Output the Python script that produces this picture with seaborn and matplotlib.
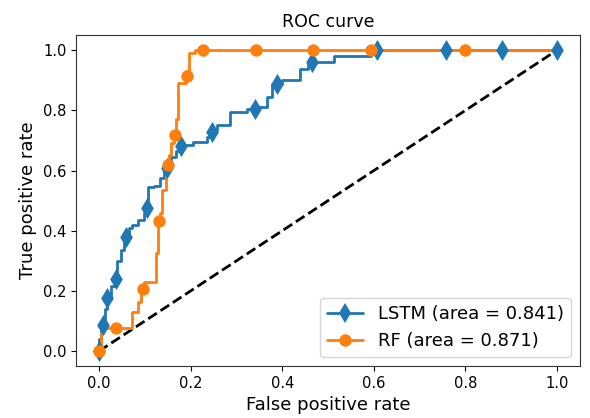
import matplotlib
matplotlib.use('Agg')
import matplotlib.pyplot as plt
from matplotlib.lines import Line2D
import seaborn as sns

# ROC curve vertices
lstm_fpr = [0.0, 0.0, 0.005, 0.005, 0.012, 0.012, 0.018, 0.018, 0.026, 0.026, 0.034, 0.034,
            0.04, 0.04, 0.048, 0.048, 0.055, 0.055, 0.06, 0.06, 0.066, 0.066, 0.072, 0.072,
            0.085, 0.085, 0.098, 0.098, 0.104, 0.104, 0.108, 0.108, 0.12, 0.12, 0.133, 0.133,
            0.142, 0.142, 0.15, 0.15, 0.158, 0.158, 0.168, 0.168, 0.178, 0.178, 0.206, 0.206,
            0.235, 0.235, 0.248, 0.248, 0.258, 0.258, 0.286, 0.286, 0.322, 0.322, 0.348, 0.348,
            0.367, 0.367, 0.377, 0.377, 0.399, 0.399, 0.439, 0.439, 0.457, 0.457, 0.512, 0.512,
            0.594, 0.594, 1.0]
lstm_tpr = [0.0, 0.04, 0.04, 0.09, 0.09, 0.14, 0.14, 0.175, 0.175, 0.215, 0.215, 0.24,
            0.24, 0.3, 0.3, 0.335, 0.335, 0.36, 0.36, 0.38, 0.38, 0.41, 0.41, 0.42,
            0.42, 0.435, 0.435, 0.46, 0.46, 0.5, 0.5, 0.545, 0.545, 0.55, 0.55, 0.575,
            0.575, 0.6, 0.6, 0.625, 0.625, 0.645, 0.645, 0.665, 0.665, 0.684, 0.684, 0.695,
            0.695, 0.712, 0.712, 0.735, 0.735, 0.751, 0.751, 0.795, 0.795, 0.805, 0.805, 0.812,
            0.812, 0.845, 0.845, 0.889, 0.889, 0.902, 0.902, 0.936, 0.936, 0.959, 0.959, 0.98,
            0.98, 1.0, 1.0]

rf_fpr = [0.0, 0.004, 0.004, 0.009, 0.009, 0.071, 0.071, 0.086, 0.086, 0.092, 0.092, 0.099,
          0.099, 0.124, 0.124, 0.128, 0.128, 0.134, 0.134, 0.138, 0.138, 0.146, 0.146, 0.152,
          0.152, 0.157, 0.157, 0.163, 0.163, 0.168, 0.168, 0.172, 0.172, 0.19, 0.19, 0.197,
          0.197, 0.21, 0.21, 1.0]
rf_tpr = [0.0, 0.0, 0.06, 0.06, 0.077, 0.077, 0.13, 0.13, 0.164, 0.164, 0.206, 0.206,
          0.23, 0.23, 0.325, 0.325, 0.43, 0.43, 0.46, 0.46, 0.535, 0.535, 0.6, 0.6,
          0.65, 0.65, 0.69, 0.69, 0.72, 0.72, 0.77, 0.77, 0.89, 0.89, 0.93, 0.93,
          0.99, 0.99, 1.0, 1.0]

# marker positions along each curve
lstm_mx = [0.0, 0.009, 0.018, 0.036, 0.06, 0.104, 0.148, 0.18, 0.247, 0.341, 0.388, 0.464,
           0.606, 0.758, 0.88, 1.0]
lstm_my = [0.0, 0.086, 0.175, 0.238, 0.38, 0.477, 0.61, 0.681, 0.729, 0.804, 0.889, 0.959,
           1.0, 1.0, 1.0, 1.0]
rf_mx = [0.0, 0.038, 0.095, 0.131, 0.151, 0.166, 0.191, 0.227, 0.343, 0.468, 0.594, 0.80]
rf_my = [0.0, 0.077, 0.206, 0.433, 0.618, 0.718, 0.915, 1.0, 1.0, 1.0, 1.0, 1.0]

lstm_label = 'LSTM (area = 0.841)'
rf_label = 'RF (area = 0.871)'
blue = '#1f77b4'
orange = '#ff7f0e'

sns.set_style('ticks')
plt.rcParams['font.family'] = ['DejaVu Sans']
plt.rcParams['text.color'] = 'black'
plt.rcParams['axes.labelcolor'] = 'black'
plt.rcParams['xtick.color'] = 'black'
plt.rcParams['ytick.color'] = 'black'
plt.rcParams['axes.edgecolor'] = '#333333'

fig, ax = plt.subplots(figsize=(5.9, 4.18), dpi=100)
fig.subplots_adjust(left=0.129, right=0.983, bottom=0.124, top=0.916)

ax.plot([0, 1], [0, 1], 'k--', lw=2)

sns.lineplot(x=lstm_fpr, y=lstm_tpr, sort=False, estimator=None, color=blue, lw=2, ax=ax)
sns.scatterplot(x=lstm_mx, y=lstm_my, marker='d', s=115, color=blue, linewidth=0, ax=ax, zorder=3)
sns.lineplot(x=rf_fpr, y=rf_tpr, sort=False, estimator=None, color=orange, lw=2, ax=ax)
sns.scatterplot(x=rf_mx, y=rf_my, marker='o', s=80, color=orange, linewidth=0, ax=ax, zorder=4)

handles = [Line2D([], [], color=blue, lw=2, marker='d', markersize=10.5, markeredgewidth=0),
           Line2D([], [], color=orange, lw=2, marker='o', markersize=9, markeredgewidth=0)]
ax.legend(handles, [lstm_label, rf_label], loc='lower right', fontsize=13)

ax.set_xlim(-0.05, 1.05)
ax.set_ylim(-0.05, 1.05)
ax.set_xticks([0.0, 0.2, 0.4, 0.6, 0.8, 1.0])
ax.set_yticks([0.0, 0.2, 0.4, 0.6, 0.8, 1.0])
ax.tick_params(labelsize=10.5)
ax.set_xlabel('False positive rate', fontsize=13)
ax.set_ylabel('True positive rate', fontsize=13)
ax.set_title('ROC curve', fontsize=12.5)

fig.savefig('out.png', dpi=100)
